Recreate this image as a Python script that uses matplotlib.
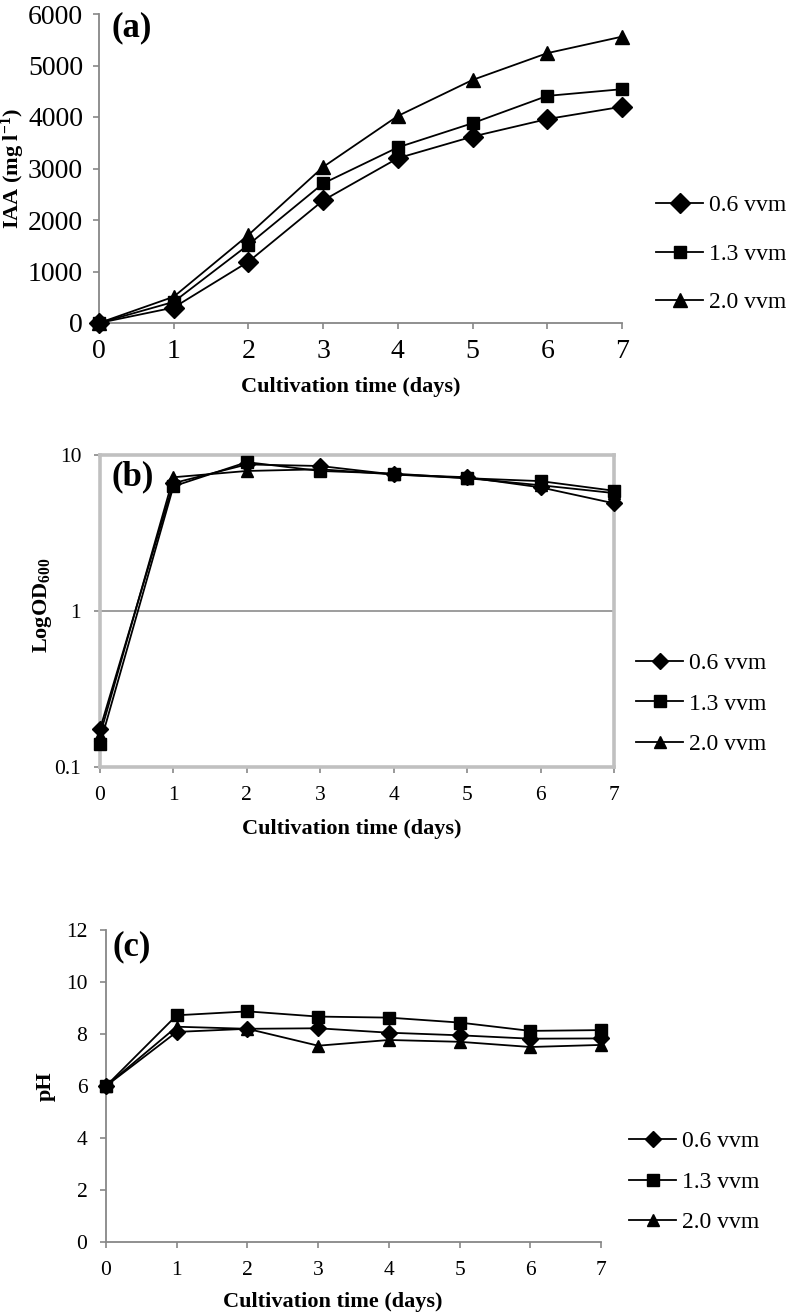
import matplotlib
matplotlib.use("Agg")
import matplotlib.pyplot as plt
from matplotlib.ticker import FixedLocator, NullLocator

plt.rcParams['font.family'] = ['Liberation Serif', 'DejaVu Serif']
plt.rcParams['mathtext.fontset'] = 'custom'
plt.rcParams['mathtext.rm'] = 'Liberation Serif'
plt.rcParams['mathtext.bf'] = 'Liberation Serif:bold'
plt.rcParams['mathtext.it'] = 'Liberation Serif:italic'

days = [0, 1, 2, 3, 4, 5, 6, 7]
series_labels = ['0.6 vvm', '1.3 vvm', '2.0 vvm']

# (a) IAA (mg l-1)
iaa_06 = [0, 300, 1190, 2380, 3200, 3620, 3960, 4200]
iaa_13 = [0, 410, 1520, 2710, 3410, 3880, 4410, 4540]
iaa_20 = [0, 510, 1710, 3030, 4020, 4720, 5240, 5560]

# (b) OD600 (log scale)
od_06 = [0.175, 6.6, 8.7, 8.5, 7.5, 7.2, 6.2, 4.9]
od_13 = [0.14, 6.3, 9.0, 7.9, 7.6, 7.1, 6.8, 5.9]
od_20 = [0.16, 7.2, 7.9, 8.1, 7.5, 7.1, 6.4, 5.7]

# (c) pH
ph_06 = [6.0, 8.08, 8.2, 8.22, 8.05, 7.95, 7.82, 7.83]
ph_13 = [6.0, 8.72, 8.87, 8.67, 8.63, 8.44, 8.12, 8.15]
ph_20 = [6.0, 8.28, 8.2, 7.55, 7.77, 7.7, 7.5, 7.58]

iaa_yticks = [0, 1000, 2000, 3000, 4000, 5000, 6000]
od_yticks = [0.1, 1, 10]
od_yticklabels = ['0.1', '1', '10']
ph_yticks = [0, 2, 4, 6, 8, 10, 12]

W, H = 786, 1315
fig = plt.figure(figsize=(W / 100, H / 100), dpi=100)


def px_axes(left, top, right, bottom):
    return fig.add_axes([left / W, (H - bottom) / H, (right - left) / W, (bottom - top) / H])


markers = ['D', 's', '^']
GRAY = '#878787'


def draw_series(ax, ys_list, msizes):
    handles = []
    for ys, m, ms, lab in zip(ys_list, markers, msizes, series_labels):
        h, = ax.plot(days, ys, color='black', lw=1.3, marker=m, ms=ms,
                     mfc='black', mec='black', clip_on=False, zorder=5, label=lab)
        handles.append(h)
    return handles


def add_legend(ax, handles, x_px, yc_px, spacing):
    ax.legend(handles=handles, loc='center left',
              bbox_to_anchor=(x_px / W, (H - yc_px) / H), bbox_transform=fig.transFigure,
              frameon=False, fontsize=17, handlelength=2.0, handletextpad=0.25,
              labelspacing=spacing, borderpad=0, borderaxespad=0)


# ---------- Panel (a) ----------
axa = px_axes(99, 14, 622, 323)
ha = draw_series(axa, [iaa_06, iaa_13, iaa_20], [10, 9, 9.5])
axa.set_xlim(0, 7)
axa.set_ylim(0, 6000)
axa.set_yticks(iaa_yticks)
axa.set_xticks(days)
for s in ['top', 'right']:
    axa.spines[s].set_visible(False)
for s in ['left', 'bottom']:
    axa.spines[s].set_color(GRAY)
    axa.spines[s].set_linewidth(1.3)
axa.tick_params(axis='both', direction='out', length=4.5, width=1.2, color=GRAY,
                labelsize=20, pad=7)
fig.text(13 / W, (H - 168) / H, r'IAA (mg l$^{\mathbf{-1}}$)', rotation=90,
         ha='center', va='center', fontsize=16, fontweight='bold')
fig.text(351 / W, (H - 387) / H, 'Cultivation time (days)', ha='center', va='center',
         fontsize=16, fontweight='bold')
fig.text(132 / W, (H - 28) / H, '(a)', ha='center', va='center', fontsize=25,
         fontweight='bold')
add_legend(axa, ha, 656, 254, 1.15)

# ---------- Panel (b) ----------
axb = px_axes(100, 455, 614, 767)
hb = draw_series(axb, [od_06, od_13, od_20], [8, 8.5, 8.5])
axb.set_yscale('log')
axb.set_xlim(0, 7)
axb.set_ylim(0.1, 10)
axb.yaxis.set_major_locator(FixedLocator(od_yticks))
axb.set_yticklabels(od_yticklabels)
axb.yaxis.set_minor_locator(NullLocator())
axb.set_xticks(days)
axb.axhline(1, color='#8c8c8c', lw=1.2, zorder=1)
for s in axb.spines.values():
    s.set_color('#C0C0C0')
    s.set_linewidth(2.6)
axb.tick_params(axis='both', direction='out', length=4.5, width=1.2, color=GRAY,
                labelsize=15.5, pad=9)
fig.text(42 / W, (H - 605) / H, r'$\mathbf{LogOD_{600}}$', rotation=90,
         ha='center', va='center', fontsize=16)
fig.text(352 / W, (H - 829) / H, 'Cultivation time (days)', ha='center', va='center',
         fontsize=16, fontweight='bold')
fig.text(133 / W, (H - 477) / H, '(b)', ha='center', va='center', fontsize=25,
         fontweight='bold')
add_legend(axb, hb, 636, 704, 0.8)

# ---------- Panel (c) ----------
axc = px_axes(106, 930, 601, 1242)
hc = draw_series(axc, [ph_06, ph_13, ph_20], [8, 8.5, 8.5])
axc.set_xlim(0, 7)
axc.set_ylim(0, 12)
axc.set_yticks(ph_yticks)
axc.set_xticks(days)
for s in ['top', 'right']:
    axc.spines[s].set_visible(False)
for s in ['left', 'bottom']:
    axc.spines[s].set_color(GRAY)
    axc.spines[s].set_linewidth(1.3)
axc.tick_params(axis='both', direction='out', length=4.5, width=1.2, color=GRAY,
                labelsize=15.5, pad=9)
fig.text(46 / W, (H - 1086) / H, 'pH', rotation=90, ha='center', va='center',
         fontsize=16, fontweight='bold')
fig.text(333 / W, (H - 1302) / H, 'Cultivation time (days)', ha='center', va='center',
         fontsize=16, fontweight='bold')
fig.text(132 / W, (H - 947) / H, '(c)', ha='center', va='center', fontsize=25,
         fontweight='bold')
add_legend(axc, hc, 629, 1182, 0.8)

fig.savefig('out.png', dpi=100)
